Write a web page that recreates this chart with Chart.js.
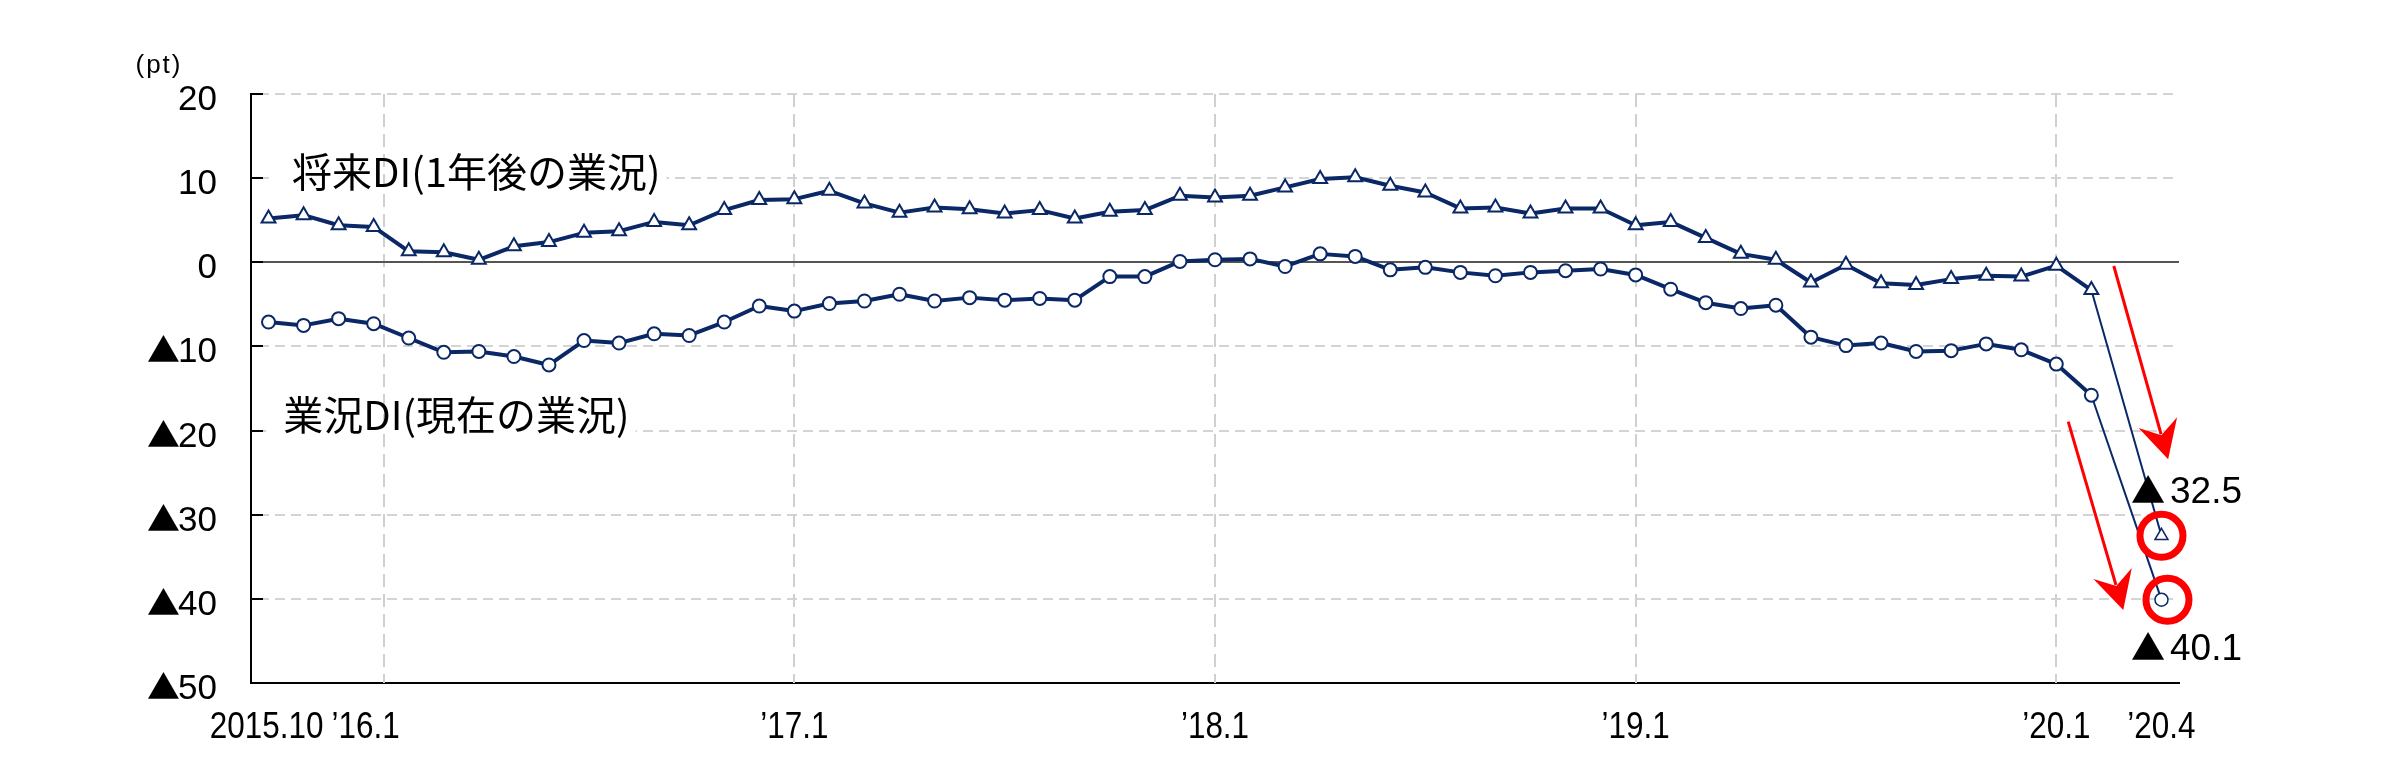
<!DOCTYPE html>
<html lang="ja">
<head>
<meta charset="utf-8">
<title>業況DI</title>
<script src="https://cdn.jsdelivr.net/npm/chart.js@4.4.1/dist/chart.umd.min.js"></script>
<style>
  html, body { margin: 0; padding: 0; background: #fff; }
  canvas { display: block; }
</style>
</head>
<body>
<canvas id="diChart" width="2392" height="784"></canvas>
<script>
// monthly, index 0 = 2015.10 ... index 54 = 2020.4 (2020.3 has no value)
const tickIndex = [0, 3, 15, 27, 39, 51, 54];
const tickLabels = ['2015.10', '’16.1', '’17.1', '’18.1', '’19.1', '’20.1', '’20.4'];
const yTicks = [20, 10, 0, -10, -20, -30, -40, -50];

// 将来DI(1年後の業況)
const futureDI = [
  5.2, 5.6, 4.4, 4.2, 1.3, 1.2, 0.3, 1.9, 2.4, 3.5, 3.7, 4.8,
  4.4, 6.2, 7.4, 7.5, 8.5, 7.0, 5.9, 6.5, 6.3, 5.8, 6.2, 5.2,
  6.0, 6.2, 7.9, 7.7, 7.9, 8.9, 9.9, 10.1, 9.1, 8.3, 6.4, 6.5,
  5.8, 6.4, 6.4, 4.4, 4.8, 2.9, 1.0, 0.3, -2.4, -0.3, -2.5, -2.7,
  -2.0, -1.6, -1.7, -0.4, -3.3, null, -32.5
];
// 業況DI(現在の業況)
const currentDI = [
  -7.1, -7.5, -6.7, -7.3, -9.0, -10.7, -10.6, -11.2, -12.2, -9.3, -9.6, -8.5,
  -8.7, -7.1, -5.2, -5.8, -4.9, -4.6, -3.8, -4.6, -4.2, -4.5, -4.3, -4.5,
  -1.7, -1.7, 0.1, 0.3, 0.4, -0.5, 1.0, 0.7, -0.9, -0.6, -1.2, -1.6,
  -1.2, -1.0, -0.8, -1.5, -3.2, -4.8, -5.5, -5.1, -8.9, -9.9, -9.6, -10.6,
  -10.5, -9.7, -10.4, -12.1, -15.8, null, -40.1
];

const NAVY = '#0a2766';
const LATIN = "'Liberation Sans', Arial, sans-serif";
const CJK = "'Noto Sans CJK JP', sans-serif";

function toPoints(arr, from, to) {
  const pts = [];
  for (let i = from; i <= to; i++) {
    if (arr[i] !== null) pts.push({ x: i, y: arr[i] });
  }
  return pts;
}

// black triangle of the Japanese font, ink box h tall, bottom on baseY, right edge at rightX
function drawTri(ctx, rightX, baseY, h) {
  ctx.textAlign = 'left';
  ctx.textBaseline = 'alphabetic';
  ctx.font = '100px ' + CJK;
  const m = ctx.measureText('▲');
  const size = 100 * h / (m.actualBoundingBoxAscent + m.actualBoundingBoxDescent);
  ctx.font = size.toFixed(2) + 'px ' + CJK;
  const m2 = ctx.measureText('▲');
  ctx.fillText('▲', rightX - m2.actualBoundingBoxRight, baseY - m2.actualBoundingBoxDescent);
}

// number with ▲ for minus, digits start at x (align left) or end at x (align right)
function drawValue(ctx, v, x, baseY, size, triH, align, gap) {
  const digits = String(Math.abs(v));
  ctx.font = size + 'px ' + LATIN;
  ctx.textBaseline = 'alphabetic';
  ctx.textAlign = align;
  ctx.fillText(digits, x, baseY);
  if (v < 0) {
    const left = align === 'right' ? x - ctx.measureText(digits).width : x;
    drawTri(ctx, left - gap, baseY, triH);
  }
}

const decor = {
  id: 'decor',
  beforeDatasetsDraw(chart, args, opts) {
    const { ctx, chartArea: a, scales: { x, y } } = chart;
    ctx.save();
    ctx.lineWidth = 2;
    ctx.strokeStyle = '#d4d4d4';
    ctx.setLineDash([10, 6]);
    yTicks.forEach(v => {
      if (v === 0 || v === y.min) return;
      const py = Math.round(y.getPixelForValue(v));
      ctx.beginPath();
      ctx.moveTo(a.left + 8, py);
      ctx.lineTo(a.right, py);
      ctx.stroke();
    });

    // white boxes behind the series names hide the gridline
    ctx.font = opts.nameFont;
    ctx.fillStyle = '#fff';
    opts.names.forEach(n => {
      const px = x.getPixelForValue(n.x);
      const py = y.getPixelForValue(n.y);
      const w = ctx.measureText(n.text).width;
      ctx.fillRect(px - 17, py - 22, w + 23, 44);
    });

    ctx.strokeStyle = '#d0d0d0';
    ctx.setLineDash([13, 7]);
    opts.vGrid.forEach(v => {
      const px = Math.round(x.getPixelForValue(v));
      ctx.beginPath();
      ctx.moveTo(px, a.top);
      ctx.lineTo(px, a.bottom);
      ctx.stroke();
    });

    ctx.setLineDash([]);
    ctx.strokeStyle = '#555';
    const y0 = Math.round(y.getPixelForValue(0));
    ctx.beginPath();
    ctx.moveTo(a.left, y0);
    ctx.lineTo(a.right, y0);
    ctx.stroke();

    // inward tick marks on the value axis
    ctx.strokeStyle = '#000';
    yTicks.forEach(v => {
      const py = Math.round(y.getPixelForValue(v));
      ctx.beginPath();
      ctx.moveTo(a.left, py);
      ctx.lineTo(a.left + 12, py);
      ctx.stroke();
    });
    ctx.restore();
  },
  afterDatasetsDraw(chart, args, opts) {
    const { ctx, chartArea: a, scales: { x, y } } = chart;
    ctx.save();
    ctx.fillStyle = '#000';

    // value axis labels
    yTicks.forEach(v => {
      const py = y.getPixelForValue(v);
      drawValue(ctx, v, a.left - 34, py + 16, 35, 27, 'right', -1);
    });

    // category axis labels (condensed)
    ctx.font = '37px ' + LATIN;
    ctx.textAlign = 'center';
    ctx.textBaseline = 'alphabetic';
    tickIndex.forEach((v, i) => {
      ctx.save();
      ctx.translate(x.getPixelForValue(v) + opts.labelShift[i], a.bottom + 55);
      ctx.scale(0.85, 1);
      ctx.fillText(tickLabels[i], 0, 0);
      ctx.restore();
    });

    // series names
    ctx.font = opts.nameFont;
    ctx.textAlign = 'left';
    ctx.textBaseline = 'middle';
    opts.names.forEach(n => {
      ctx.fillText(n.text, x.getPixelForValue(n.x), y.getPixelForValue(n.y));
    });

    // unit
    ctx.font = '26px ' + LATIN;
    ctx.textAlign = 'center';
    ctx.letterSpacing = '2px';
    ctx.fillText('(pt)', a.left - 92, a.top - 28);
    ctx.letterSpacing = '0px';

    // red arrows
    ctx.fillStyle = '#ff0000';
    ctx.strokeStyle = '#ff0000';
    ctx.lineWidth = 3;
    opts.arrows.forEach(ar => {
      const x1 = x.getPixelForValue(ar.from[0]), y1 = y.getPixelForValue(ar.from[1]);
      const x2 = x.getPixelForValue(ar.to[0]), y2 = y.getPixelForValue(ar.to[1]);
      const len = Math.hypot(x2 - x1, y2 - y1);
      const ux = (x2 - x1) / len, uy = (y2 - y1) / len;
      const nx = -uy, ny = ux;
      ctx.beginPath();
      ctx.moveTo(x1, y1);
      ctx.lineTo(x2 - ux * 26, y2 - uy * 26);
      ctx.stroke();
      ctx.beginPath();
      ctx.moveTo(x2, y2);
      ctx.lineTo(x2 - ux * 38 + nx * 20, y2 - uy * 38 + ny * 20);
      ctx.lineTo(x2 - ux * 25, y2 - uy * 25);
      ctx.lineTo(x2 - ux * 38 - nx * 20, y2 - uy * 38 - ny * 20);
      ctx.closePath();
      ctx.fill();
    });

    // latest values: circles and labels
    opts.latest.forEach(l => {
      const meta = chart.getDatasetMeta(l.dataset);
      const last = meta.data.length - 1;
      const pt = meta.data[last];
      const raw = chart.data.datasets[l.dataset].data[last].y;
      ctx.lineWidth = 7;
      ctx.strokeStyle = '#ff0000';
      ctx.beginPath();
      ctx.arc(pt.x + l.ringDx, pt.y, 21.5, 0, Math.PI * 2);
      ctx.stroke();
      ctx.fillStyle = '#000';
      drawValue(ctx, raw, pt.x + 8.5, pt.y + l.baseDy, 37, 28, 'left', 5);
    });
    ctx.restore();
  }
};

const datasets = [
  {
    data: toPoints(futureDI, 0, 52),
    borderColor: NAVY, borderWidth: 4,
    pointStyle: 'triangle', pointRadius: 8, pointBorderWidth: 2,
    pointBackgroundColor: '#fff', pointBorderColor: NAVY
  },
  {
    data: toPoints(currentDI, 0, 52),
    borderColor: NAVY, borderWidth: 4,
    pointStyle: 'circle', pointRadius: 6.5, pointBorderWidth: 2,
    pointBackgroundColor: '#fff', pointBorderColor: NAVY
  },
  {
    data: toPoints(futureDI, 52, 54),
    borderColor: NAVY, borderWidth: 2,
    pointStyle: 'triangle', pointRadius: ctx => ctx.dataIndex === 0 ? 0 : 7.5,
    pointBorderWidth: 1.5, pointBackgroundColor: '#fff', pointBorderColor: NAVY
  },
  {
    data: toPoints(currentDI, 52, 54),
    borderColor: NAVY, borderWidth: 2,
    pointStyle: 'circle', pointRadius: ctx => ctx.dataIndex === 0 ? 0 : 6.5,
    pointBorderWidth: 1.5, pointBackgroundColor: '#fff', pointBorderColor: NAVY
  }
];

Chart.defaults.font.family = LATIN;
Chart.defaults.color = '#000';

new Chart(document.getElementById('diChart'), {
  type: 'line',
  data: { datasets: datasets },
  options: {
    responsive: false,
    animation: false,
    layout: { padding: { top: 94, right: 213, left: 0, bottom: 0 } },
    elements: { line: { tension: 0, borderJoinStyle: 'round' } },
    scales: {
      x: {
        type: 'linear',
        min: -0.5,
        max: 54.5,
        afterBuildTicks: s => { s.ticks = tickIndex.map(v => ({ value: v })); },
        afterFit: s => { s.height = 101; },
        grid: { display: false, drawTicks: false },
        border: { display: true, color: '#000', width: 2 },
        ticks: { display: false }
      },
      y: {
        min: -50,
        max: 20,
        afterBuildTicks: s => { s.ticks = yTicks.map(v => ({ value: v })); },
        afterFit: s => { s.width = 251; },
        grid: { display: false, drawTicks: false },
        border: { display: true, color: '#000', width: 2 },
        ticks: { display: false }
      }
    },
    plugins: {
      legend: { display: false },
      tooltip: { enabled: false },
      decor: {
        vGrid: [3.3, 15, 27, 39, 51],
        labelShift: [-2, -8, 0, 0, 0, 0, 0],
        nameFont: '40px ' + CJK,
        names: [
          { text: '将来DI(1年後の業況)', x: 0.67, y: 10.7 },
          { text: '業況DI(現在の業況)', x: 0.42, y: -18.15 }
        ],
        arrows: [
          { from: [52.64, -0.44], to: [54.19, -23.41] },
          { from: [51.34, -18.94], to: [52.91, -41.32] }
        ],
        latest: [
          { dataset: 2, ringDx: 0, baseDy: -32.5 },
          { dataset: 3, ringDx: 6, baseDy: 60.3 }
        ]
      }
    }
  },
  plugins: [decor]
});
</script>
</body>
</html>
